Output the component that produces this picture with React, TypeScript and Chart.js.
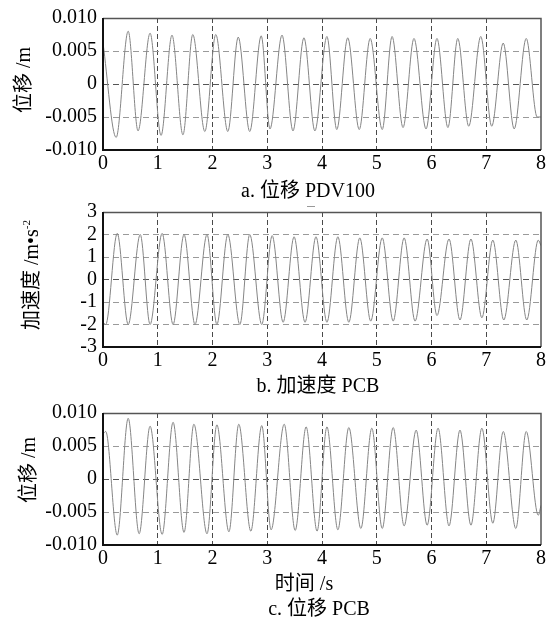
import React, { useEffect, useRef } from "react";
import { Chart, registerables } from "chart.js";
Chart.register(...registerables);

// ---------- data ----------
const xTicks = [0, 1, 2, 3, 4, 5, 6, 7, 8];
const dispTicks = [-0.01, -0.005, 0, 0.005, 0.01];
const dispTickLabels = ["-0.010", "-0.005", "0", "0.005", "0.010"];
const accTicks = [-3, -2, -1, 0, 1, 2, 3];
const accTickLabels = ["-3", "-2", "-1", "0", "1", "2", "3"];

// a. 位移 PDV100 (extremes of the trace)
const timeA = [0, 0.24, 0.46, 0.64, 0.86, 1.06, 1.26, 1.46, 1.64, 1.86, 2.06, 2.28, 2.47, 2.68, 2.89, 3.05, 3.27, 3.47, 3.67, 3.87, 4.09, 4.27, 4.47, 4.68, 4.88, 5.10, 5.28, 5.48, 5.68, 5.90, 6.10, 6.30, 6.48, 6.68, 6.90, 7.10, 7.31, 7.51, 7.73, 7.93, 8.0];
const dispA = [0.0062, -0.0081, 0.0080, -0.0071, 0.0077, -0.0078, 0.0074, -0.0077, 0.0075, -0.0072, 0.0075, -0.0072, 0.0071, -0.0072, 0.0073, -0.0068, 0.0074, -0.0071, 0.0070, -0.0071, 0.0072, -0.0069, 0.0070, -0.0069, 0.0069, -0.0069, 0.0072, -0.0066, 0.0069, -0.0068, 0.0069, -0.0066, 0.0069, -0.0064, 0.0072, -0.0064, 0.0062, -0.0068, 0.0069, -0.0050, -0.0050];

// b. 加速度 PCB
const timeB = [0, 0.05, 0.26, 0.46, 0.68, 0.86, 1.08, 1.28, 1.48, 1.68, 1.90, 2.08, 2.28, 2.50, 2.68, 2.90, 3.09, 3.29, 3.49, 3.69, 3.89, 4.09, 4.29, 4.49, 4.69, 4.89, 5.10, 5.30, 5.50, 5.70, 5.92, 6.10, 6.32, 6.52, 6.72, 6.92, 7.12, 7.32, 7.54, 7.74, 7.95, 8.0];
const accB = [-1.9, -2.0, 2.05, -2.0, 2.0, -2.0, 2.05, -2.0, 2.0, -2.0, 2.0, -2.0, 2.0, -2.0, 2.0, -2.0, 1.95, -1.9, 1.9, -1.9, 1.9, -1.9, 1.9, -1.9, 1.85, -1.85, 1.85, -1.85, 1.85, -1.85, 1.8, -1.6, 1.8, -1.8, 1.8, -1.7, 1.75, -1.8, 1.75, -1.8, 1.75, 1.5];

// c. 位移 PCB
const timeC = [0, 0.05, 0.26, 0.46, 0.66, 0.86, 1.08, 1.28, 1.48, 1.66, 1.90, 2.08, 2.30, 2.48, 2.70, 2.90, 3.07, 3.31, 3.51, 3.71, 3.91, 4.09, 4.29, 4.49, 4.71, 4.91, 5.10, 5.30, 5.50, 5.72, 5.92, 6.12, 6.32, 6.52, 6.72, 6.92, 7.12, 7.31, 7.54, 7.73, 7.95, 8.0];
const dispC = [0.0068, 0.0072, -0.0085, 0.0092, -0.0083, 0.0080, -0.0084, 0.0086, -0.0081, 0.0083, -0.0083, 0.0082, -0.0080, 0.0083, -0.0079, 0.0081, -0.0077, 0.0083, -0.0078, 0.0079, -0.0079, 0.0079, -0.0077, 0.0078, -0.0075, 0.0077, -0.0075, 0.0078, -0.0071, 0.0074, -0.0070, 0.0077, -0.0071, 0.0074, -0.0070, 0.0077, -0.0067, 0.0072, -0.0075, 0.0072, -0.0055, -0.0040];

// ---------- styling ----------
const FONT = '"Liberation Serif", "Noto Sans CJK SC", serif';

const framePlugin = {
  id: "frame",
  afterDraw(chart: any) {
    const { ctx, chartArea: a } = chart;
    ctx.save();
    ctx.strokeStyle = "#555";
    ctx.lineWidth = 1.5;
    ctx.beginPath();
    ctx.moveTo(a.left, a.top + 0.5);
    ctx.lineTo(a.right, a.top + 0.5);
    ctx.lineTo(a.right, a.bottom);
    ctx.stroke();
    ctx.strokeStyle = "#111";
    ctx.lineWidth = 2;
    ctx.beginPath();
    ctx.moveTo(a.left, a.top);
    ctx.lineTo(a.left, a.bottom);
    ctx.lineTo(a.right, a.bottom);
    ctx.stroke();
    ctx.restore();
  },
};

type PanelProps = {
  top: number;
  height: number;
  padTop: number;
  xHeight: number;
  times: number[];
  values: number[];
  ticks: number[];
  labels: string[];
};

function Panel({ top, height, padTop, xHeight, times, values, ticks, labels }: PanelProps) {
  const ref = useRef<HTMLCanvasElement>(null);
  useEffect(() => {
    const yMin = ticks[0];
    const yMax = ticks[ticks.length - 1];
    const chart = new Chart(ref.current as HTMLCanvasElement, {
      type: "line",
      data: {
        datasets: [
          {
            data: times.map((t, i) => ({ x: t, y: values[i] })),
            borderColor: "#858585",
            borderWidth: 1,
            pointRadius: 0,
            cubicInterpolationMode: "monotone",
            fill: false,
          },
        ],
      },
      options: {
        responsive: false,
        maintainAspectRatio: false,
        animation: false,
        events: [],
        layout: { padding: { left: 0, right: 14, top: padTop, bottom: 0 }, autoPadding: false },
        plugins: { legend: { display: false }, tooltip: { enabled: false } },
        scales: {
          x: {
            type: "linear",
            min: 0,
            max: 8,
            afterBuildTicks: (s: any) => {
              s.ticks = xTicks.map((v) => ({ value: v }));
            },
            afterFit: (s: any) => {
              s.height = xHeight;
            },
            ticks: {
              font: { family: FONT, size: 20 },
              color: "#000",
              padding: 2,
              maxRotation: 0,
              autoSkip: false,
              callback: (v: any) => String(v),
            },
            grid: {
              drawTicks: false,
              lineWidth: 1,
              color: (c: any) => {
                const v = c.tick ? c.tick.value : 0;
                return v === 0 || v === 8 ? "rgba(0,0,0,0)" : "#4a4a4a";
              },
            },
            border: { display: false, dash: [5, 3] },
          },
          y: {
            type: "linear",
            min: yMin,
            max: yMax,
            afterBuildTicks: (s: any) => {
              s.ticks = ticks.map((v) => ({ value: v }));
            },
            afterFit: (s: any) => {
              s.width = 103;
            },
            ticks: {
              font: { family: FONT, size: 20 },
              color: "#000",
              padding: 6,
              autoSkip: false,
              callback: (_v: any, i: number) => labels[i],
            },
            grid: {
              drawTicks: false,
              lineWidth: 1,
              color: (c: any) => {
                const v = c.tick ? c.tick.value : 0;
                if (v === yMin || v === yMax) return "rgba(0,0,0,0)";
                return v === 0 ? "#555" : "#9a9a9a";
              },
            },
            border: { display: false, dash: [6, 4] },
          },
        },
      },
      plugins: [framePlugin],
    } as any);
    return () => chart.destroy();
  }, []);
  return (
    <canvas
      ref={ref}
      width={555}
      height={height}
      style={{ position: "absolute", left: 0, top, width: 555, height }}
    />
  );
}

function Label({ x, y, rotate, children }: { x: number; y: number; rotate?: boolean; children: any }) {
  return (
    <div
      style={{
        position: "absolute",
        left: x,
        top: y,
        transform: `translate(-50%, -50%)${rotate ? " rotate(-90deg)" : ""}`,
        whiteSpace: "nowrap",
        fontFamily: FONT,
        fontSize: 20,
        lineHeight: "20px",
        color: "#000",
      }}
    >
      {children}
    </div>
  );
}

export default function App() {
  return (
    <div style={{ position: "absolute", left: 0, top: 0, width: 555, height: 618, background: "#fff" }}>
      <Panel top={0} height={175} padTop={14} xHeight={25} times={timeA} values={dispA} ticks={dispTicks} labels={dispTickLabels} />
      <Panel top={190} height={180} padTop={22} xHeight={23} times={timeB} values={accB} ticks={accTicks} labels={accTickLabels} />
      <Panel top={395} height={180} padTop={14} xHeight={30} times={timeC} values={dispC} ticks={dispTicks} labels={dispTickLabels} />

      <Label x={23} y={80} rotate>位移 /m</Label>
      <Label x={31} y={275} rotate>
        加速度 /m•s<sup style={{ fontSize: 11, lineHeight: 0 }}>-2</sup>
      </Label>
      <Label x={28} y={470} rotate>位移 /m</Label>

      <Label x={308} y={190}>a. 位移 PDV100</Label>
      <div style={{ position: "absolute", left: 307, top: 206, width: 8, height: 1, background: "#999" }} />
      <Label x={318} y={385}>b. 加速度 PCB</Label>
      <Label x={304} y={583}>时间 /s</Label>
      <Label x={319} y={608}>c. 位移 PCB</Label>
    </div>
  );
}
